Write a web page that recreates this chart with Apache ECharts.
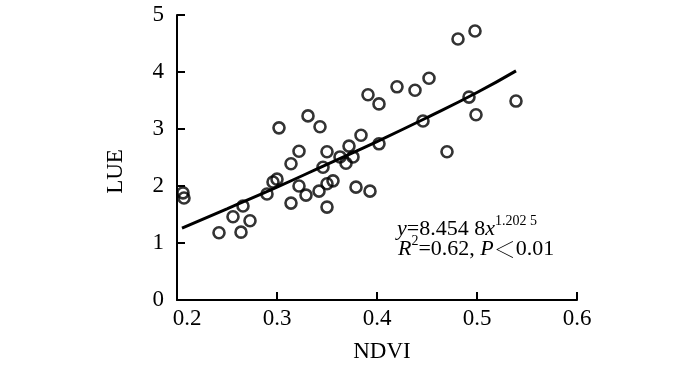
<!DOCTYPE html>
<html>
<head>
<meta charset="utf-8">
<script src="https://cdn.jsdelivr.net/npm/echarts@6/dist/echarts.min.js"></script>
<style>html,body{margin:0;padding:0;background:#fff;}#c{width:700px;height:368px;}</style>
</head>
<body>
<div id="c"></div>
<script>
const ndvi = [0.206,0.207,0.242,0.256,0.264,0.266,0.273,0.290,0.296,0.300,0.302,0.314,0.314,0.322,0.322,0.329,0.331,0.342,0.343,0.346,0.350,0.350,0.350,0.356,0.363,0.369,0.372,0.376,0.379,0.384,0.391,0.393,0.402,0.402,0.420,0.438,0.446,0.452,0.470,0.481,0.492,0.498,0.499,0.539];
const lue  = [1.88,1.79,1.18,1.46,1.19,1.65,1.39,1.86,2.07,2.12,3.02,2.39,1.70,2.61,2.00,1.84,3.23,1.91,3.04,2.33,2.60,2.04,1.63,2.09,2.51,2.40,2.70,2.51,1.98,2.89,3.60,1.91,3.44,2.74,3.74,3.68,3.14,3.89,2.60,4.58,3.56,4.72,3.25,3.49];
// fitted curve, points
const fitX = [0.205,0.25,0.30,0.35,0.40,0.45,0.50,0.539];
const fitY = [1.26,1.60,1.98,2.38,2.78,3.20,3.64,4.02];
const xTicks = [0.2,0.3,0.4,0.5,0.6];
const yTicks = [0,1,2,3,4,5];

const chart = echarts.init(document.getElementById('c'), null, {renderer:'canvas'});
const serif = '"Liberation Serif","Times New Roman",serif';
const fs = 23;
chart.setOption({
  backgroundColor:'#fff',
  animation:false,
  grid:{left:177,right:123,top:15,bottom:68},
  xAxis:{
    type:'value', min:xTicks[0], max:xTicks[xTicks.length-1], interval:0.1,
    name:'NDVI', nameLocation:'middle', nameGap:40,
    nameTextStyle:{fontFamily:serif,fontSize:fs,color:'#000',padding:[0,0,0,10]},
    axisLine:{show:true,lineStyle:{color:'#000',width:2}},
    axisTick:{show:true,inside:true,length:8,lineStyle:{color:'#000',width:2}},
    splitLine:{show:false},
    axisLabel:{margin:7,color:'#000',fontFamily:serif,fontSize:fs,
      formatter:function(v){const s=v.toFixed(1); return v<0.25?'{a|'+s+'}':s;},
      rich:{a:{fontFamily:serif,fontSize:fs,color:'#000',padding:[0,0,0,20]}}}
  },
  yAxis:{
    type:'value', min:yTicks[0], max:yTicks[yTicks.length-1], interval:1,
    name:'LUE', nameLocation:'middle', nameGap:50, nameRotate:90,
    nameTextStyle:{fontFamily:serif,fontSize:fs,color:'#000',padding:[0,28,0,0]},
    axisLine:{show:true,lineStyle:{color:'#000',width:2}},
    axisTick:{show:true,inside:true,length:8,lineStyle:{color:'#000',width:2}},
    splitLine:{show:false},
    axisLabel:{margin:13,color:'#000',fontFamily:serif,fontSize:fs}
  },
  series:[
    {type:'line', data:fitX.map((x,i)=>[x,fitY[i]]), smooth:true, symbol:'none',
     lineStyle:{color:'#000',width:3}, z:2},
    {type:'scatter', data:ndvi.map((x,i)=>[x,lue[i]]), symbol:'circle', symbolSize:11,
     itemStyle:{color:'rgba(0,0,0,0)',borderColor:'#000',borderWidth:2.6}, z:3}
  ],
  graphic:[
    {type:'text', left:397, top:214, style:{
      text:'{i|y}{n|=8.454 8}{i|x}{s|1.202 5}',
      rich:{
        i:{fontFamily:serif,fontSize:22,fontStyle:'italic',fill:'#000',verticalAlign:'bottom',lineHeight:26},
        n:{fontFamily:serif,fontSize:22,fill:'#000',verticalAlign:'bottom',lineHeight:26},
        s:{fontFamily:serif,fontSize:14,fill:'#000',verticalAlign:'top',lineHeight:26}
      }}},
    {type:'text', left:398, top:234, style:{
      text:'{i|R}{s|2}{n|=0.62, }{i|P}{lt|＜}{n|0.01}',
      rich:{
        i:{fontFamily:serif,fontSize:22,fontStyle:'italic',fill:'#000',verticalAlign:'bottom',lineHeight:26},
        n:{fontFamily:serif,fontSize:22,fill:'#000',verticalAlign:'bottom',lineHeight:26},
        lt:{fontFamily:'"Noto Sans CJK SC"',fontSize:22,fontWeight:'lighter',fill:'#000',verticalAlign:'bottom',lineHeight:26,padding:[0,0,0,0]},
        s:{fontFamily:serif,fontSize:14,fill:'#000',verticalAlign:'top',lineHeight:26}
      }}}
  ]
});
</script>
</body>
</html>
